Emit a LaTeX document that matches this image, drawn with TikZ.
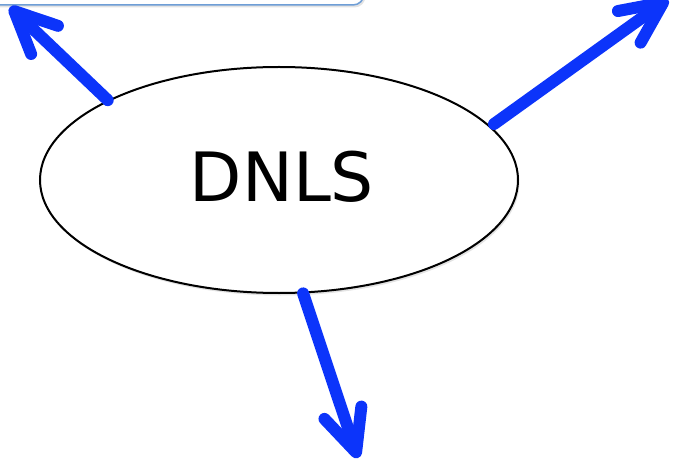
\documentclass[tikz,border=0pt]{standalone}
\usepackage{fontspec}
\setmainfont{DejaVu Sans}
\usetikzlibrary{shapes.geometric,arrows.meta,shadows}

\definecolor{arrowblue}{RGB}{12,52,250}
\definecolor{boxedge}{RGB}{110,158,214}

\tikzset{
  softshadow/.style={drop shadow={opacity=0.22,shadow xshift=1.5pt,shadow yshift=-2.5pt}},
  topic/.style={ellipse,draw=black,line width=2pt,fill=white,inner sep=0pt,
    minimum width=478pt,minimum height=226pt,font=\fontsize{68}{68}\selectfont,softshadow},
  framebox/.style={draw=boxedge,line width=1.5pt,rounded corners=11pt,fill=white,softshadow},
  bigarrow/.style={draw=arrowblue,line width=12pt,line cap=round,
    -{Straight Barb[angle=50:46pt,round]}}
}

\begin{document}
\begin{tikzpicture}[x=1pt,y=-1pt]
  \useasboundingbox (0,0) rectangle (677,465);

  % partly visible frame at the top edge
  \draw[framebox] (-30,-40) rectangle (364,5);

  % central ellipse
  \node[topic] (e) at (279,180) {\hspace*{6pt}\raisebox{8pt}{DNLS}};

  % loose ends of the three arrows
  \coordinate (tl) at (10,7);
  \coordinate (tr) at (668,-1);
  \coordinate (bt) at (358,458);

  \draw[bigarrow] (e.155) -- (tl);
  \draw[bigarrow] ([xshift=6pt]e.15) -- (tr);
  \draw[bigarrow] (e.-78) -- (bt);
\end{tikzpicture}
\end{document}
